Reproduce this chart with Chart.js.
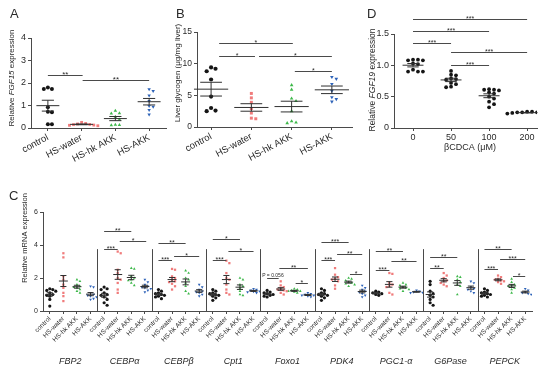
<!DOCTYPE html>
<html>
<head>
<meta charset="utf-8">
<script src="https://cdn.jsdelivr.net/npm/chart.js@4.4.1/dist/chart.umd.min.js"></script>
<style>
body { margin: 0; background: #fff; width: 554px; height: 369px; position: relative; overflow: hidden; }
canvas { position: absolute; }
</style>
</head>
<body>
<canvas id="chartA" width="170" height="180" style="left:0;top:0"></canvas>
<canvas id="chartB" width="190" height="180" style="left:168px;top:0"></canvas>
<canvas id="chartD" width="194" height="180" style="left:360px;top:0"></canvas>
<canvas id="chartC" width="554" height="189" style="left:0;top:180px"></canvas>
<script>
// groups used in panels A, B and C
const groupNames = ['control', 'HS-water', 'HS-hk AKK', 'HS-AKK'];

// A: relative FGF15 expression
const aControl = [1.73, 1.73, 1.8, 0.92, 0.72, 0.7, 0.17, 0.17];
const aWater = [0.25, 0.2, 0.18, 0.16, 0.15, 0.13, 0.12, 0.1];
const aHk = [0.77, 0.66, 0.64, 0.5, 0.38, 0.15, 0.13, 0.12];
const aAkk = [1.72, 1.65, 1.45, 1.2, 0.98, 0.95, 0.8, 0.6];
const aTicks = [0, 1, 2, 3, 4];
const aSig = [[0, 1.03, 2.36, '**'], [1.03, 3.0, 2.13, '**']];

// B: liver glycogen (ug/mg liver)
const bControl = [9.4, 9.2, 8.8, 7.5, 4.8, 3.0, 2.6, 2.5];
const bWater = [5.3, 4.6, 3.9, 2.9, 2.2, 1.4, 1.3];
const bHk = [6.6, 5.9, 4.5, 4.1, 2.5, 0.9, 0.7, 0.6];
const bAkk = [7.9, 7.6, 6.8, 5.7, 4.7, 4.4, 4.0];
const bTicks = [0, 5, 10, 15];
const bSig = [[0.2, 2.03, 13.3, '*'], [0.2, 1.09, 11.2, '*'], [1.19, 3.0, 11.2, '*'], [2.08, 3.0, 8.8, '*']];

// D: relative FGF19 expression vs bCDCA dose
const dDoses = ['0', '50', '100', '200'];
const d0 = [1.09, 1.09, 1.08, 1.08, 1.03, 1.02, 0.93, 0.9, 0.9, 0.9];
const d50 = [0.91, 0.85, 0.84, 0.79, 0.78, 0.77, 0.72, 0.7, 0.66, 0.65];
const d100 = [0.62, 0.61, 0.61, 0.6, 0.57, 0.55, 0.5, 0.47, 0.42, 0.38, 0.33];
const d200 = [0.26, 0.26, 0.25, 0.25, 0.25, 0.24, 0.24, 0.24, 0.23, 0.23];
const dTicks = [0, 0.5, 1.0, 1.5];
const dSig = [[0, 3, 1.74, '***'], [0, 2, 1.55, '***'], [0, 1, 1.35, '***'], [1, 3, 1.21, '***'], [1, 2, 1.0, '***']];

// C: relative mRNA expression, per gene: control, HS-water, HS-hk AKK, HS-AKK
const geneNames = ['FBP2', 'CEBPα', 'CEBPβ', 'Cpt1', 'Foxo1', 'PDK4', 'PGC1-α', 'G6Pase', 'PEPCK'];
const fbp2 = [[1.35, 1.3, 1.25, 1.2, 1.1, 1.0, 0.95, 0.9, 0.7, 0.3], [3.5, 3.25, 2.1, 1.9, 1.6, 1.4, 1.1, 0.9, 0.6], [1.9, 1.8, 1.6, 1.5, 1.45, 1.4, 1.3, 1.2, 1.1], [1.5, 1.45, 1.1, 1.0, 0.95, 0.9, 0.85, 0.75, 0.7]];
const cebpa = [[1.45, 1.35, 1.3, 1.1, 1.0, 0.95, 0.85, 0.7, 0.5, 0.35], [3.6, 3.5, 2.5, 2.3, 2.0, 1.9, 1.7, 1.3, 1.1], [2.6, 2.55, 2.1, 2.0, 1.9, 1.85, 1.7, 1.55], [1.9, 1.75, 1.6, 1.5, 1.45, 1.4, 1.35, 1.25, 1.15]];
const cebpb = [[1.3, 1.2, 1.1, 1.05, 1.0, 0.95, 0.9, 0.85, 0.75], [2.55, 2.5, 2.1, 2.0, 1.9, 1.8, 1.75, 1.65, 1.5, 1.3], [2.45, 2.3, 2.0, 1.9, 1.7, 1.5, 1.2, 1.05], [1.6, 1.45, 1.3, 1.2, 1.15, 1.1, 1.0, 0.9]];
const cpt1 = [[1.3, 1.2, 1.1, 1.05, 1.0, 0.95, 0.9, 0.8, 0.65], [3.05, 2.9, 2.3, 2.0, 1.9, 1.6, 1.3, 1.1, 1.0], [2.0, 1.9, 1.6, 1.5, 1.4, 1.2, 1.0, 0.95], [1.35, 1.3, 1.25, 1.2, 1.18, 1.15, 1.1]];
const foxo1 = [[1.25, 1.15, 1.1, 1.05, 1.0, 0.95, 0.9, 0.85], [1.8, 1.55, 1.45, 1.35, 1.3, 1.25, 1.2, 1.1, 1.0], [1.35, 1.3, 1.25, 1.2, 1.2, 1.15, 1.1], [1.1, 1.05, 1.0, 0.95, 0.9, 0.85, 0.95]];
const pdk4 = [[1.35, 1.25, 1.1, 1.05, 1.0, 0.95, 0.9, 0.8, 0.65], [2.6, 2.2, 2.05, 1.95, 1.9, 1.8, 1.55, 1.35], [2.0, 1.95, 1.85, 1.75, 1.7, 1.65, 1.6, 1.5], [1.55, 1.4, 1.3, 1.2, 1.15, 1.05, 0.95, 0.85]];
const pgc1a = [[1.2, 1.15, 1.1, 1.05, 1.0, 0.95], [2.3, 2.25, 1.7, 1.6, 1.5, 1.45, 1.1, 1.0], [1.7, 1.6, 1.55, 1.45, 1.4, 1.35, 1.3, 1.2], [1.25, 1.2, 1.15, 1.12, 1.1]];
const g6pase = [[1.8, 1.6, 1.2, 1.05, 0.95, 0.85, 0.7, 0.5, 0.35], [2.3, 2.15, 2.0, 1.85, 1.8, 1.7, 1.6, 1.5], [2.1, 2.05, 1.9, 1.75, 1.6, 1.5, 1.0], [1.8, 1.7, 1.45, 1.35, 1.3, 1.2, 1.1]];
const pepck = [[1.35, 1.25, 1.15, 1.1, 1.05, 1.0, 0.95, 0.9, 0.85], [2.15, 2.05, 1.95, 1.9, 1.85, 1.8, 1.75, 1.65], [1.95, 1.75, 1.6, 1.55, 1.5, 1.4, 1.3, 1.1], [1.35, 1.25, 1.15, 1.1, 1.05, 1.0]];
const cTicks = [0, 2, 4, 6];
// [from, to, height, label], x in category index
const cSig = [
  [4, 6, 4.87, '**'], [4, 5, 3.74, '***'], [5.15, 7.1, 4.24, '*'],
  [8, 10, 4.14, '**'], [8, 9, 3.09, '***'], [9.15, 11, 3.33, '*'],
  [12, 14, 4.36, '*'], [12, 13, 3.09, '***'], [13.15, 15, 3.64, '*'],
  [16, 16.85, 2.02, 'P = 0.056'], [16.9, 19, 2.63, '**'], [18.1, 19, 1.72, '*'],
  [20, 22, 4.16, '***'], [20, 21, 3.09, '***'], [21.15, 23, 3.45, '**'], [22.1, 23, 2.22, '*'],
  [24, 26, 3.66, '**'], [24, 25, 2.48, '***'], [25.15, 27, 3.05, '**'],
  [28, 30, 3.25, '**'], [28, 29, 2.58, '**'],
  [32, 34, 3.74, '**'], [32, 33, 2.53, '***'], [33.15, 35, 3.13, '***'], [34.1, 35, 2.12, '*']
];

const FONT = '"Liberation Sans", Arial, sans-serif';
const axisColor = '#4a4a4a';
const textColor = '#2a2a2a';
const groupStyles = [
  { color: '#151515', shape: 'circle', rot: 0 },
  { color: '#f07b7b', shape: 'rect', rot: 0 },
  { color: '#3db84a', shape: 'triangle', rot: 0 },
  { color: '#2d62b8', shape: 'triangle', rot: 180 }
];

Chart.defaults.font.family = FONT;
Chart.defaults.color = textColor;

// spread points of one group sideways so close values do not overlap
function swarm(vals, tol, step) {
  const order = vals.map((v, i) => i).sort((a, b) => vals[b] - vals[a]);
  const placed = [];
  order.forEach(i => {
    const v = vals[i];
    for (let k = 0; k < 15; k++) {
      const o = (k % 2 ? 1 : -1) * Math.ceil(k / 2) * step;
      const hit = placed.some(p => Math.abs(p.v - v) < tol && Math.abs(p.o - o) < step * 0.95);
      if (!hit) { placed.push({ v, o }); break; }
    }
  });
  return placed;
}

function richText(ctx, parts, x, y, size, rot) {
  ctx.save();
  ctx.translate(x, y);
  ctx.rotate(rot);
  const fonts = parts.map(p => (p[1] ? 'italic ' : '') + size + 'px ' + FONT);
  let w = 0;
  parts.forEach((p, i) => { ctx.font = fonts[i]; w += ctx.measureText(p[0]).width; });
  let cx = -w / 2;
  ctx.textAlign = 'left';
  ctx.textBaseline = 'middle';
  ctx.fillStyle = textColor;
  parts.forEach((p, i) => { ctx.font = fonts[i]; ctx.fillText(p[0], cx, 0); cx += ctx.measureText(p[0]).width; });
  ctx.restore();
}

const deco = {
  id: 'deco',
  afterDatasetsDraw(chart, args, o) {
    const ctx = chart.ctx, xs = chart.scales.x, ys = chart.scales.y;
    const X = v => xs.getPixelForValue(v), Y = v => ys.getPixelForValue(v);
    ctx.save();
    ctx.strokeStyle = axisColor;
    ctx.lineWidth = 1;
    (o.separators || []).forEach(s => {
      ctx.beginPath();
      ctx.moveTo(Math.round(X(s)) + 0.5, Y(0));
      ctx.lineTo(Math.round(X(s)) + 0.5, Y(o.sepTop));
      ctx.stroke();
    });
    // mean and SEM
    ctx.strokeStyle = '#303030';
    o.groups.forEach(g => {
      const n = g.values.length;
      const m = g.values.reduce((a, b) => a + b, 0) / n;
      const sd = Math.sqrt(g.values.reduce((a, b) => a + (b - m) * (b - m), 0) / (n - 1));
      const se = sd / Math.sqrt(n);
      const hl = (y, w) => { ctx.beginPath(); ctx.moveTo(X(g.x - w / 2), y); ctx.lineTo(X(g.x + w / 2), y); ctx.stroke(); };
      hl(Y(m), o.meanW);
      hl(Y(m + se), o.semW);
      hl(Y(m - se), o.semW);
      ctx.beginPath();
      ctx.moveTo(X(g.x), Y(m + se));
      ctx.lineTo(X(g.x), Y(m - se));
      ctx.stroke();
    });
    // significance bars
    ctx.strokeStyle = axisColor;
    ctx.fillStyle = textColor;
    ctx.textAlign = 'center';
    ctx.textBaseline = 'alphabetic';
    o.sig.forEach(([a, b, v, label]) => {
      const y = Math.round(Y(v)) + 0.5;
      ctx.beginPath();
      ctx.moveTo(X(a), y);
      ctx.lineTo(X(b), y);
      ctx.stroke();
      const small = label.length > 3;
      ctx.font = (small ? 5 : o.starSize) + 'px ' + FONT;
      ctx.fillText(label, (X(a) + X(b)) / 2, small ? y - 2 : y + o.starSize * 0.22);
    });
    ctx.restore();
  },
  afterDraw(chart, args, o) {
    const ctx = chart.ctx;
    ctx.save();
    ctx.fillStyle = textColor;
    ctx.font = '13px ' + FONT;
    ctx.textAlign = 'left';
    ctx.textBaseline = 'top';
    ctx.fillText(o.panel[0], o.panel[1], o.panel[2]);
    ctx.restore();
    richText(ctx, o.yTitle, o.yTitlePos[0], o.yTitlePos[1], o.yTitleSize, -Math.PI / 2);
    if (o.xTitle) richText(ctx, o.xTitle, o.xTitlePos[0], o.xTitlePos[1], 9, 0);
    if (o.geneLabels) {
      const xs = chart.scales.x;
      o.geneLabels.forEach((g, i) => richText(ctx, [[g, true]], xs.getPixelForValue(i * 4 + 1.5), o.geneY, 9, 0));
    }
  }
};

function makeChart(id, p) {
  const datasets = p.sets.map((vals, k) => {
    const st = groupStyles[p.styleOf(k)];
    return {
      data: swarm(vals, p.tol, p.step).map(q => ({ x: k + q.o, y: q.v })),
      pointStyle: st.shape,
      pointRotation: st.rot,
      backgroundColor: st.color,
      borderColor: st.color,
      borderWidth: 0,
      pointRadius: p.r
    };
  });
  const axis = (extra) => Object.assign({
    grid: { drawOnChartArea: false, drawTicks: true, tickLength: 3, color: axisColor },
    border: { display: true, color: axisColor, width: 1 }
  }, extra);
  return new Chart(document.getElementById(id), {
    type: 'scatter',
    data: { datasets },
    options: {
      responsive: false,
      animation: false,
      events: [],
      layout: { padding: { top: p.padTop, right: p.padRight, bottom: 0, left: 0 } },
      plugins: {
        legend: { display: false },
        tooltip: { enabled: false },
        deco: Object.assign({
          groups: p.sets.map((vals, k) => ({ x: k, values: vals }))
        }, p.deco)
      },
      scales: {
        x: axis({
          type: 'linear', min: p.xMin, max: p.xMax,
          afterBuildTicks: s => { s.ticks = p.xLabels.map((l, i) => ({ value: i })); },
          afterFit: s => { s.height = p.xH; },
          ticks: { callback: v => p.xLabels[v], autoSkip: false, minRotation: p.rot, maxRotation: p.rot, font: { size: p.xFont }, padding: 1 }
        }),
        y: axis({
          type: 'linear', min: 0, max: p.yTicks[p.yTicks.length - 1],
          afterBuildTicks: s => { s.ticks = p.yTicks.map(v => ({ value: v })); },
          afterFit: s => { s.width = p.yW; },
          ticks: { callback: p.yFmt || (v => String(v)), font: { size: p.yFont }, padding: 2 }
        })
      }
    },
    plugins: [deco]
  });
}

makeChart('chartA', {
  sets: [aControl, aWater, aHk, aAkk], styleOf: k => k, tol: 0.17, step: 0.12, r: 2.0,
  xLabels: groupNames, xMin: -0.5, xMax: 3.5, rot: 28, xFont: 9.5, xH: 52,
  yTicks: aTicks, yW: 31, yFont: 9, padTop: 38, padRight: 3,
  deco: { meanW: 0.68, semW: 0.36, sig: aSig, starSize: 8, panel: ['A', 10, 8],
          yTitle: [['Relative ', false], ['FGF15', true], [' expression', false]], yTitlePos: [12, 78], yTitleSize: 8 }
});

makeChart('chartB', {
  sets: [bControl, bWater, bHk, bAkk], styleOf: k => k, tol: 0.6, step: 0.11, r: 2.1,
  xLabels: groupNames, xMin: -0.35, xMax: 3.5, rot: 28, xFont: 9.5, xH: 53,
  yTicks: bTicks, yW: 29, yFont: 8.5, padTop: 32, padRight: 6,
  deco: { meanW: 0.85, semW: 0.54, sig: bSig, starSize: 7, panel: ['B', 8, 8],
          yTitle: [['Liver glycogen (μg/mg liver)', false]], yTitlePos: [10, 73], yTitleSize: 8 }
});

makeChart('chartD', {
  sets: [d0, d50, d100, d200], styleOf: k => 0, tol: 0.05, step: 0.13, r: 1.9,
  xLabels: dDoses, xMin: -0.5, xMax: 3.26, rot: 0, xFont: 9, xH: 52,
  yTicks: dTicks, yW: 34, yFont: 9, padTop: 34, padRight: 17,
  yFmt: v => (v === 0 ? '0' : v.toFixed(1)),
  deco: { meanW: 0.55, semW: 0.3, sig: dSig, starSize: 7, panel: ['D', 7, 8],
          yTitle: [['Relative ', false], ['FGF19', true], [' expression', false]], yTitlePos: [13, 80], yTitleSize: 8.5,
          xTitle: [['βCDCA (μM)', false]], xTitlePos: [110, 148] }
});

const cSets = [fbp2, cebpa, cebpb, cpt1, foxo1, pdk4, pgc1a, g6pase, pepck].flat();
makeChart('chartC', {
  sets: cSets, styleOf: k => k % 4, tol: 0.16, step: 0.22, r: 1.6,
  xLabels: cSets.map((s, k) => groupNames[k % 4]), xMin: -0.5, xMax: 35.5, rot: 45, xFont: 6.5, xH: 58,
  yTicks: cTicks, yW: 43, yFont: 7, padTop: 32, padRight: 22,
  deco: { meanW: 0.66, semW: 0.45, sig: cSig, starSize: 7, panel: ['C', 9, 10],
          separators: [3.5, 7.5, 11.5, 15.5, 19.5, 23.5, 27.5, 31.5], sepTop: 3.75,
          yTitle: [['Relative mRNA expression', false]], yTitlePos: [25, 58], yTitleSize: 7.5,
          geneLabels: geneNames, geneY: 181 }
});
</script>
</body>
</html>
